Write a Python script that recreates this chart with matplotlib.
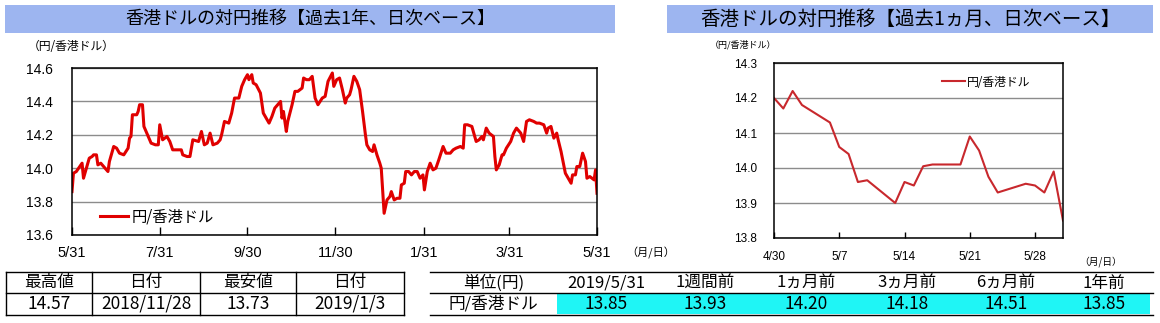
import numpy as np
import pandas as pd
import matplotlib
matplotlib.use('Agg')
import matplotlib.pyplot as plt
from matplotlib.patches import Rectangle
from matplotlib.lines import Line2D

plt.rcParams['font.family'] = ['Liberation Sans', 'Noto Sans CJK JP']

# ---- data ----
# 1-year series: days after 2018/5/31 and JPY per HKD
year_days = [0, 1, 3, 7, 8, 10, 12, 14, 15, 17, 18, 20, 22, 25, 26, 29, 31, 33, 36, 39,
             40, 41, 42, 45, 46, 47, 49, 50, 52, 55, 58, 60, 61, 63, 66, 68, 70, 74, 76, 77,
             80, 82, 84, 88, 90, 92, 94, 96, 98, 101, 103, 104, 106, 109, 111, 113, 116, 118,
             120, 122, 123, 125, 126, 128, 131, 133, 135, 137, 139, 141, 143, 145, 146, 147,
             149, 150, 153, 155, 157, 160, 161, 163, 165, 167, 169, 171, 174, 176, 178, 181,
             182, 184, 186, 188, 190, 191, 193, 194, 196, 198, 200, 202, 204, 205, 207, 209,
             210, 212, 214, 215, 216, 217, 219, 221, 222, 224, 226, 228, 229, 231, 232, 234,
             236, 238, 240, 242, 244, 245, 247, 249, 251, 253, 255, 258, 260, 263, 265, 267,
             270, 272, 273, 275, 278, 281, 283, 285, 286, 288, 290, 293, 294, 295, 297, 299,
             300, 302, 305, 307, 309, 312, 314, 316, 318, 321, 323, 325, 328, 330, 331, 333,
             335, 337, 338, 340, 343, 345, 347, 348, 350, 351, 353, 355, 357, 358, 360, 363,
             364, 365]
year_vals = [13.86, 13.97, 13.98, 14.03, 13.94, 14.00, 14.06, 14.07, 14.08, 14.08, 14.02, 14.03,
             14.01, 13.98, 14.04, 14.13, 14.12, 14.09, 14.08, 14.12, 14.18, 14.19, 14.32, 14.32,
             14.34, 14.38, 14.38, 14.25, 14.21, 14.15, 14.14, 14.14, 14.26, 14.17, 14.19, 14.16,
             14.11, 14.11, 14.11, 14.08, 14.07, 14.07, 14.17, 14.16, 14.22, 14.14, 14.15, 14.21,
             14.14, 14.15, 14.17, 14.20, 14.28, 14.27, 14.33, 14.42, 14.42, 14.49, 14.53, 14.56,
             14.53, 14.56, 14.51, 14.50, 14.45, 14.33, 14.30, 14.27, 14.31, 14.36, 14.38, 14.40,
             14.30, 14.34, 14.22, 14.28, 14.38, 14.46, 14.46, 14.48, 14.54, 14.53, 14.53, 14.55,
             14.42, 14.38, 14.42, 14.43, 14.52, 14.57, 14.49, 14.53, 14.54, 14.47, 14.39, 14.42,
             14.44, 14.47, 14.55, 14.52, 14.47, 14.34, 14.20, 14.14, 14.11, 14.10, 14.14, 14.08,
             14.03, 14.00, 13.86, 13.73, 13.81, 13.83, 13.86, 13.81, 13.82, 13.82, 13.90, 13.91,
             13.98, 13.98, 13.96, 13.98, 13.98, 13.94, 13.96, 13.87, 13.98, 14.03, 13.99, 14.00,
             14.05, 14.13, 14.09, 14.09, 14.11, 14.12, 14.13, 14.12, 14.26, 14.26, 14.25, 14.16,
             14.17, 14.19, 14.17, 14.24, 14.21, 14.19, 14.07, 13.99, 14.02, 14.08, 14.08, 14.12,
             14.16, 14.21, 14.24, 14.21, 14.16, 14.28, 14.29, 14.28, 14.27, 14.27, 14.26, 14.21,
             14.24, 14.25, 14.18, 14.21, 14.17, 14.10, 13.97, 13.94, 13.91, 13.96, 13.96, 14.01,
             14.01, 14.09, 14.04, 13.94, 13.95, 13.93, 13.99, 13.85]

# 1-month series (business days)
month_dates = ['2019-04-30', '2019-05-01', '2019-05-02', '2019-05-03', '2019-05-06', '2019-05-07',
               '2019-05-08', '2019-05-09', '2019-05-10', '2019-05-13', '2019-05-14', '2019-05-15',
               '2019-05-16', '2019-05-17', '2019-05-20', '2019-05-21', '2019-05-22', '2019-05-23',
               '2019-05-24', '2019-05-27', '2019-05-28', '2019-05-29', '2019-05-30', '2019-05-31']
month_vals = [14.20, 14.17, 14.22, 14.18, 14.13, 14.06, 14.04, 13.96, 13.965, 13.90, 13.96, 13.95,
              14.005, 14.01, 14.01, 14.09, 14.05, 13.975, 13.93, 13.955, 13.95, 13.93, 13.99, 13.85]

year_ticks = ['2018-05-31', '2018-07-31', '2018-09-30', '2018-11-30', '2019-01-31', '2019-03-31', '2019-05-31']
year_ticklabels = ['5/31', '7/31', '9/30', '11/30', '1/31', '3/31', '5/31']
month_ticks = ['2019-04-30', '2019-05-07', '2019-05-14', '2019-05-21', '2019-05-28']
month_ticklabels = ['4/30', '5/7', '5/14', '5/21', '5/28']

summary_headers = ['最高値', '日付', '最安値', '日付']
summary_values = ['14.57', '2018/11/28', '13.73', '2019/1/3']
compare_headers = ['単位(円)', '2019/5/31', '1週間前', '1ヵ月前', '3ヵ月前', '6ヵ月前', '1年前']
compare_values = ['円/香港ドル', '13.85', '13.93', '14.20', '14.18', '14.51', '13.85']

series_name = '円/香港ドル'

# ---- layout helpers (pixel -> figure fraction) ----
W, H = 1160, 323
fig = plt.figure(figsize=(W / 100, H / 100), dpi=100)


def fx(x):
    return x / W


def fy(y):
    return 1 - y / H


JP = ['Noto Sans CJK JP', 'DejaVu Sans']
NARROW = ['Liberation Sans Narrow', 'Noto Sans CJK JP']
banner = '#9db5f0'

# title banners
for x0, x1, title, fs in [(5, 615, '香港ドルの対円推移【過去1年、日次ベース】', 13),
                          (667, 1153, '香港ドルの対円推移【過去1ヵ月、日次ベース】', 14)]:
    fig.add_artist(Rectangle((fx(x0), fy(33)), (x1 - x0) / W, 28 / H,
                             transform=fig.transFigure, color=banner, lw=0))
    fig.text(fx((x0 + x1) / 2), fy(19), title, ha='center', va='center',
             fontsize=fs, family=JP)

# ---- 1 year chart ----
ax1 = fig.add_axes([fx(72), fy(235), 525 / W, 167 / H])
d1 = pd.Timestamp('2018-05-31') + pd.to_timedelta(year_days, unit='D')
ax1.plot(d1, year_vals, color='#e00000', lw=2.2, label=series_name)
ax1.set_xlim(pd.Timestamp('2018-05-31'), pd.Timestamp('2019-05-31'))
ax1.set_ylim(13.6, 14.6)
ax1.set_yticks(np.arange(13.6, 14.61, 0.2))
ax1.set_yticklabels([f'{v:.1f}' for v in np.arange(13.6, 14.61, 0.2)])
ax1.set_xticks(pd.to_datetime(year_ticks))
ax1.set_xticklabels(year_ticklabels)
ax1.tick_params(axis='x', direction='in', length=6, width=1, pad=8, labelsize=10.5)
ax1.tick_params(axis='y', length=0, pad=14, labelsize=10)
ax1.grid(axis='y', color='#8c8c8c', lw=1)
for s in ax1.spines.values():
    s.set_linewidth(1.1)
ax1.legend(loc='center left', bbox_to_anchor=(fx(100), fy(217)),
           bbox_transform=fig.transFigure, frameon=False,
           handlelength=1.85, handletextpad=0.25, borderpad=0, borderaxespad=0,
           prop={'family': JP, 'size': 11})
fig.text(fx(28), fy(47), '（円/香港ドル）', ha='left', va='center', fontsize=8.5, family=JP)
fig.text(fx(626), fy(253), '（月/日）', ha='left', va='center', fontsize=8, family=JP)

# ---- 1 month chart ----
ax2 = fig.add_axes([fx(774), fy(238), 289 / W, 175 / H])
ax2.plot(pd.to_datetime(month_dates), month_vals, color='#c8282d', lw=1.5, label=series_name)
ax2.set_xlim(pd.Timestamp('2019-04-30'), pd.Timestamp('2019-05-31'))
ax2.set_ylim(13.8, 14.3)
ax2.set_yticks(np.arange(13.8, 14.31, 0.1))
ax2.set_yticklabels([f'{v:.1f}' for v in np.arange(13.8, 14.31, 0.1)])
ax2.set_xticks(pd.to_datetime(month_ticks))
ax2.set_xticklabels(month_ticklabels)
ax2.tick_params(axis='x', direction='in', length=4, width=1, pad=9, labelsize=8.5)
ax2.tick_params(axis='y', length=0, pad=12, labelsize=8.5)
ax2.grid(axis='y', color='#8c8c8c', lw=1)
for s in ax2.spines.values():
    s.set_linewidth(1.1)
ax2.legend(loc='center left', bbox_to_anchor=(fx(942), fy(82)),
           bbox_transform=fig.transFigure, frameon=False,
           handlelength=1.95, handletextpad=0.2, borderpad=0, borderaxespad=0,
           prop={'family': JP, 'size': 8.5})
fig.text(fx(710), fy(45), '（円/香港ドル）', ha='left', va='center', fontsize=6.5, family=JP)
fig.text(fx(1079), fy(262), '（月/日）', ha='left', va='center', fontsize=7, family=JP)


def hline(x0, x1, y, lw=1.0):
    fig.add_artist(Line2D([fx(x0), fx(x1)], [fy(y), fy(y)], transform=fig.transFigure,
                          color='black', lw=lw))


def vline(x, y0, y1, lw=1.0):
    fig.add_artist(Line2D([fx(x), fx(x)], [fy(y0), fy(y1)], transform=fig.transFigure,
                          color='black', lw=lw))


# ---- summary table (left) ----
row_top, row_mid, row_bot = 272, 293, 315
cols_l = [6, 92, 200, 296, 404]
for y in (row_top, row_mid, row_bot):
    hline(cols_l[0], cols_l[-1], y)
for x in cols_l:
    vline(x, row_top, row_bot)
for i in range(4):
    cx = (cols_l[i] + cols_l[i + 1]) / 2
    fig.text(fx(cx), fy(283), summary_headers[i], ha='center', va='center',
             fontsize=12, family=JP)
    fig.text(fx(cx), fy(304), summary_values[i], ha='center', va='center',
             fontsize=12.5, family=NARROW)

# ---- comparison table (right) ----
cols_r = [430, 557, 655, 755, 857, 957, 1055, 1153]
fig.add_artist(Rectangle((fx(557), fy(314)), (1150 - 557) / W, 20 / H,
                         transform=fig.transFigure, color='#1ff5f5', lw=0))
for y in (row_top, row_mid, row_bot):
    hline(cols_r[0], cols_r[-1], y)
for i in range(7):
    cx = (cols_r[i] + cols_r[i + 1]) / 2
    fig.text(fx(cx), fy(283), compare_headers[i], ha='center', va='center',
             fontsize=12, family=NARROW)
    fig.text(fx(cx), fy(304), compare_values[i], ha='center', va='center',
             fontsize=12.5 if i else 12, family=NARROW)

fig.savefig('out.png', dpi=100)
